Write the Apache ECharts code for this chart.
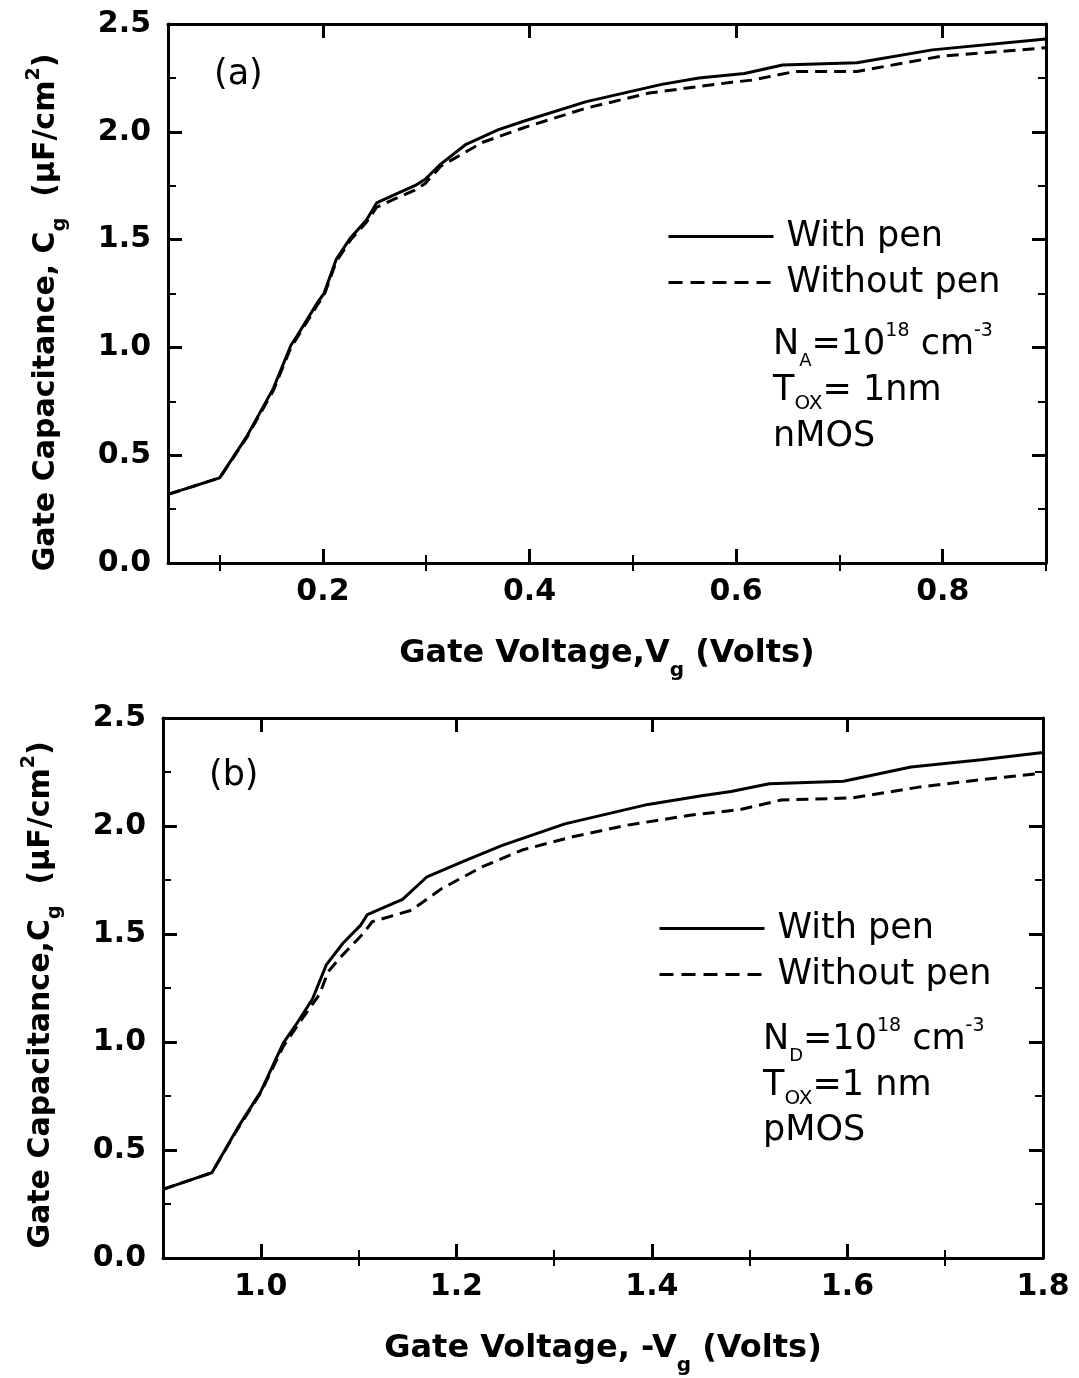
<!DOCTYPE html>
<html><head><meta charset="utf-8">
<script src="https://cdn.jsdelivr.net/npm/echarts@6/dist/echarts.min.js"></script>
<style>html,body{margin:0;padding:0;background:#fff}#c{width:1079px;height:1378px}</style>
</head><body><div id="c"></div>
<script>
// ---- Data (a) nMOS ----
const vgA_with   = [0.05,0.10,0.126,0.152,0.169,0.175,0.195,0.201,0.213,0.227,0.242,0.252,0.27,0.289,0.299,0.314,0.338,0.37,0.395,0.455,0.528,0.564,0.608,0.645,0.717,0.79,0.9];
const cgA_with   = [0.318,0.395,0.585,0.81,1.01,1.054,1.21,1.25,1.41,1.51,1.59,1.67,1.71,1.75,1.78,1.85,1.94,2.01,2.05,2.14,2.22,2.25,2.27,2.31,2.32,2.38,2.43];
const vgA_without= [0.05,0.10,0.126,0.152,0.169,0.175,0.195,0.201,0.213,0.227,0.242,0.252,0.27,0.289,0.299,0.314,0.354,0.395,0.455,0.516,0.596,0.616,0.657,0.717,0.798,0.9];
const cgA_without= [0.318,0.395,0.58,0.80,1.0,1.045,1.2,1.24,1.40,1.50,1.58,1.65,1.69,1.73,1.76,1.84,1.95,2.02,2.11,2.18,2.23,2.24,2.28,2.28,2.35,2.39];
// ---- Data (b) pMOS ----
const vgB_with   = [0.9,0.95,0.976,1.0,1.023,1.036,1.053,1.067,1.084,1.102,1.109,1.145,1.17,1.209,1.247,1.311,1.396,1.451,1.481,1.52,1.596,1.665,1.737,1.8];
const cgB_with   = [0.318,0.395,0.60,0.77,0.995,1.08,1.20,1.357,1.457,1.54,1.59,1.66,1.765,1.84,1.91,2.01,2.10,2.14,2.16,2.196,2.207,2.273,2.307,2.34];
const vgB_without= [0.9,0.95,0.976,1.0,1.023,1.044,1.06,1.069,1.081,1.105,1.114,1.154,1.185,1.226,1.268,1.319,1.375,1.439,1.49,1.532,1.605,1.673,1.737,1.8];
const cgB_without= [0.318,0.395,0.595,0.765,0.98,1.118,1.22,1.326,1.39,1.503,1.557,1.61,1.71,1.81,1.89,1.95,2.004,2.05,2.076,2.12,2.13,2.18,2.215,2.245];
// ---- Ticks ----
const xMajorA = [0.2,0.4,0.6,0.8];
const xMinorA = [0.1,0.3,0.5,0.7,0.9];
const xMajorB = [1.0,1.2,1.4,1.6,1.8];
const xMinorB = [1.1,1.3,1.5,1.7];
const seriesNames = ['With pen','Without pen'];

const FONT = 'DejaVu Sans';
const BLK = '#000';
const zip = (xs, ys) => xs.map((x, i) => [x, ys[i]]);

const subStyle = (fs, shift) => ({fontFamily: FONT, fontWeight: 'bold', fontSize: fs, color: BLK, padding: [shift * 2, 0, 0, 0]});
const supStyle = (fs, shift) => ({fontFamily: FONT, fontWeight: 'bold', fontSize: fs, color: BLK, padding: [0, 0, shift * 2, 0]});

function xAxes(g, min, max, majors, minors, name) {
  const base = {gridIndex: g, type: 'value', min: min, max: max, splitLine: {show: false}};
  const line = {show: true, onZero: false, lineStyle: {color: BLK, width: 3}};
  return [
    Object.assign({}, base, {
      position: 'bottom', axisLine: line,
      axisTick: {show: true, inside: true, length: 14, lineStyle: {color: BLK, width: 3}, customValues: majors},
      axisLabel: {show: true, customValues: majors, formatter: v => v.toFixed(1), margin: 14, color: BLK, fontFamily: FONT, fontWeight: 'bold', fontSize: 30},
      name: name, nameLocation: 'middle', nameGap: 64,
      nameTextStyle: {fontFamily: FONT, fontWeight: 'bold', fontSize: 32, color: BLK,
        rich: {b: {fontFamily: FONT, fontWeight: 'bold', fontSize: 32, color: BLK}, sub: subStyle(20, 17)}}
    }),
    Object.assign({}, base, {
      position: 'bottom', axisLine: {show: false},
      axisTick: {show: true, inside: true, length: 8, lineStyle: {color: BLK, width: 2}, customValues: minors},
      axisLabel: {show: false}
    }),
    Object.assign({}, base, {
      position: 'top', axisLine: line,
      axisTick: {show: true, inside: true, length: 14, lineStyle: {color: BLK, width: 3}, customValues: majors},
      axisLabel: {show: false}
    }),
    Object.assign({}, base, {
      position: 'top', axisLine: {show: false},
      axisTick: {show: true, inside: true, length: 8, lineStyle: {color: BLK, width: 2}, customValues: minors},
      axisLabel: {show: false}
    })
  ];
}
function yAxes(g, name, padRight) {
  const base = {gridIndex: g, type: 'value', min: 0, max: 2.5, interval: 0.5, splitLine: {show: false},
    axisLine: {show: true, onZero: false, lineStyle: {color: BLK, width: 3}},
    axisTick: {show: true, inside: true, length: 14, lineStyle: {color: BLK, width: 3}},
    minorTick: {show: true, splitNumber: 2, length: 8, lineStyle: {color: BLK, width: 2}}};
  return [
    Object.assign({}, base, {
      position: 'left',
      axisLabel: {show: true, formatter: v => v.toFixed(1), margin: 17, color: BLK, fontFamily: FONT, fontWeight: 'bold', fontSize: 30},
      name: name, nameLocation: 'middle', nameRotate: 90, nameGap: 98,
      nameTextStyle: {fontFamily: FONT, fontWeight: 'bold', fontSize: 30, color: BLK, padding: [0, padRight, 0, 0],
        rich: {b: {fontFamily: FONT, fontWeight: 'bold', fontSize: 30, color: BLK}, sub: subStyle(19, 14), sup: supStyle(19, 12)}}
    }),
    Object.assign({}, base, {position: 'right', axisLabel: {show: false}})
  ];
}

const yName = '{b|Gate Capacitance, C}{sub|g}{b|  (µF/cm}{sup|2}{b|)}';
const yNameB = '{b|Gate Capacitance,C}{sub|g}{b|  (µF/cm}{sup|2}{b|)}';

const annRich = {
  b: {fontFamily: FONT, fontSize: 35, color: BLK},
  sub: {fontFamily: FONT, fontSize: 18, color: BLK, padding: [32, 0, 0, 0]},
  sup: {fontFamily: FONT, fontSize: 19, color: BLK, padding: [0, 0, 28, 0]},
  sub2: {fontFamily: FONT, fontSize: 20, color: BLK, padding: [26, 0, 0, 0]}
};
function txt(x, y, text, fs) {
  return {type: 'text', x: x, y: y, style: {text: text, rich: annRich, fontFamily: FONT, fontSize: fs || 35, fill: BLK, verticalAlign: 'middle', align: 'left'}};
}

const legendData = [
  {name: seriesNames[0], lineStyle: {color: BLK, width: 3, type: 'solid'}},
  {name: seriesNames[1], lineStyle: {color: BLK, width: 3, type: [14, 8]}}
];
const legendCommon = {orient: 'vertical', itemWidth: 105, itemHeight: 14, itemGap: 11,
  itemStyle: {opacity: 0},
  textStyle: {fontFamily: FONT, fontSize: 35, color: BLK, padding: [0, 0, 0, 8]}, data: legendData};

const lineSolid = {color: BLK, width: 3, type: 'solid'};
const lineDash = {color: BLK, width: 3, type: [12, 7]};

const option = {
  backgroundColor: '#fff',
  animation: false,
  grid: [
    {left: 168, top: 24, width: 878, height: 539},
    {left: 163, top: 718, width: 880, height: 540}
  ],
  xAxis: xAxes(0, 0.05, 0.9, xMajorA, xMinorA, '{b|Gate Voltage,V}{sub|g}{b| (Volts)}')
    .concat(xAxes(1, 0.9, 1.8, xMajorB, xMinorB, '{b|Gate Voltage, -V}{sub|g}{b| (Volts)}')),
  yAxis: yAxes(0, yName, 38).concat(yAxes(1, yNameB, 14)),
  legend: [
    Object.assign({left: 662, top: 214}, legendCommon),
    Object.assign({left: 653, top: 906, itemGap: 12}, legendCommon)
  ],
  series: [
    {name: 'With pen', type: 'line', xAxisIndex: 0, yAxisIndex: 0, symbol: 'none', lineStyle: lineSolid, itemStyle: {color: BLK}, data: zip(vgA_with, cgA_with), z: 3},
    {name: 'Without pen', type: 'line', xAxisIndex: 0, yAxisIndex: 0, symbol: 'none', lineStyle: lineDash, itemStyle: {color: BLK}, data: zip(vgA_without, cgA_without), z: 2},
    {name: 'With pen', type: 'line', xAxisIndex: 4, yAxisIndex: 2, symbol: 'none', lineStyle: lineSolid, itemStyle: {color: BLK}, data: zip(vgB_with, cgB_with), z: 3},
    {name: 'Without pen', type: 'line', xAxisIndex: 4, yAxisIndex: 2, symbol: 'none', lineStyle: lineDash, itemStyle: {color: BLK}, data: zip(vgB_without, cgB_without), z: 2}
  ],
  graphic: [
    txt(214, 75, '{b|(a)}', 32),
    txt(773, 345, '{b|N}{sub|A}{b|=10}{sup|18}{b| cm}{sup|-3}'),
    txt(773, 391, '{b|T}{sub2|OX}{b|= 1nm}'),
    txt(773, 437, '{b|nMOS}'),
    txt(209, 776, '{b|(b)}', 32),
    txt(763, 1040, '{b|N}{sub|D}{b|=10}{sup|18}{b| cm}{sup|-3}'),
    txt(763, 1086, '{b|T}{sub2|OX}{b|=1 nm}'),
    txt(763, 1131, '{b|pMOS}')
  ]
};
const chart = echarts.init(document.getElementById('c'), null, {renderer: 'canvas'});
chart.setOption(option);
</script>
</body></html>
